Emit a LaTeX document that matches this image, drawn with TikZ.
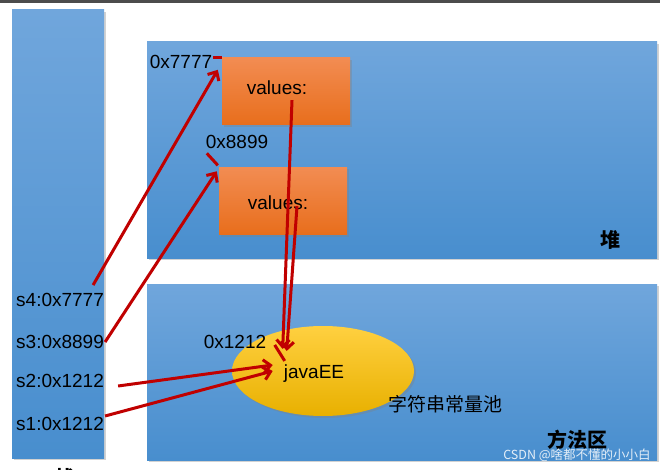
\documentclass[tikz,border=0pt]{standalone}
\usepackage{fontspec}
\setmainfont{Liberation Sans}
\newfontfamily\cjk{Noto Sans CJK SC}
\usetikzlibrary{arrows.meta}
\usetikzlibrary{positioning}
\usetikzlibrary{shadows}
\usetikzlibrary{shapes.geometric}

\definecolor{memred}{HTML}{C00000}
\definecolor{areatop}{HTML}{70A6DC}
\definecolor{areabot}{HTML}{488ECE}
\definecolor{objtop}{HTML}{F28C52}
\definecolor{objbot}{HTML}{E86E1C}
\definecolor{pooltop}{HTML}{FFD040}
\definecolor{poolbot}{HTML}{E8B000}
\tikzset{
	area/.style={draw=none, top color=areatop, bottom color=areabot,
		drop shadow={shadow xshift=2pt, shadow yshift=-2pt, opacity=0.35}},
	obj/.style={draw=none, minimum width=128, minimum height=67, inner sep=0pt,
		top color=objtop, bottom color=objbot,
		drop shadow={shadow xshift=2pt, shadow yshift=-2pt, opacity=0.35}},
	pool/.style={ellipse, draw=none, minimum width=182, minimum height=90, inner sep=0pt,
		top color=pooltop, bottom color=poolbot,
		drop shadow={shadow xshift=2pt, shadow yshift=-2pt, opacity=0.35}},
	txt/.style={inner sep=0pt, font=\fontsize{19}{22}\selectfont},
	ttl/.style={inner sep=0pt, font=\cjk\bfseries\fontsize{20}{22}\selectfont},
	ref/.style={draw=memred, line width=3pt, -{Straight Barb[length=7pt, width=13pt]}},
	tick/.style={draw=memred, line width=3pt}
}

\begin{document}
\begin{tikzpicture}[x=1pt, y=-1pt]
		\useasboundingbox (0,0) rectangle (660,470);
		\fill[white] (0,0) rectangle (660,470);
		\fill[black!70] (0,0) rectangle (660,3);
		
		% stack, heap and method area
		\fill[area] (12,10) rectangle (104,458);
		\fill[area] (147,42) rectangle (657,258);
		\fill[area] (147,284) rectangle (657,460);
		\node[ttl] (stk) at (65,478) {栈};
		\node[ttl] (heap) at (610,240) {堆};
		\node[ttl] (meth) at (577,440) {方法区};
		
		% objects in the heap
		\node[obj] (v1) at (286,91.5) {};
		\node[txt] (v1t) at (277,88) {values:};
		\node[obj] (v2) at (283,201) {};
		\node[txt] (v2t) at (278,203) {values:};
		\node[txt] (a7777) at (181,62) {0x7777};
		\node[txt] (a8899) at (237,142) {0x8899};
		
		% string constant pool
		\node[pool] (pl) at (323,371) {};
		\node[txt] (jee) at (314,374) {javaEE};
		\node[txt] (a1212) at (235,342) {0x1212};
		\node[txt, font=\cjk\fontsize{19}{22}\selectfont] (pname) at (445,404) {字符串常量池};
		
		% stack variables
		\node[txt, anchor=west] (s4) at (16,300) {s4:0x7777};
		\node[txt, anchor=west] (s3) at (16,342) {s3:0x8899};
		\node[txt, anchor=west] (s2) at (16,381) {s2:0x1212};
		\node[txt, anchor=west] (s1) at (16,424) {s1:0x1212};
		
		% address ticks
		\draw[tick] ([xshift=-9pt]v1.north west) -- (v1.north west);
		\draw[tick] ([shift={(-12,-14)}]v2.north west) -- ([shift={(-1,-2)}]v2.north west);
		\draw[tick] ([shift={(-9,-20)}]jee.north west) -- ([shift={(1,-4)}]jee.north west);
		
		% references
		\draw[ref] ([shift={(-11,-8)}]s4.north east) -- ([shift={(-4,12)}]v1.north west);
		\draw[ref] ([xshift=1pt]s3.east) -- ([shift={(-2,4)}]v2.north west);
		\draw[ref] ([shift={(14,5)}]s2.east) -- ([shift={(-11,-9)}]jee.west);
		\draw[ref] ([shift={(1,-8)}]s1.east) -- ([shift={(-11,-3)}]jee.west);
		\draw[ref] ([shift={(15,5)}]v1t.south) -- ([shift={(-1,-16)}]jee.north west);
		\draw[ref] ([shift={(19,-4)}]v2t.south) -- ([shift={(3,-14)}]jee.north west);
		
		\node[inner sep=0pt, text=white, opacity=0.85, font=\cjk\fontsize{12.5}{14}\selectfont] (wm) at (577,455) {CSDN @啥都不懂的小小白};
	\end{tikzpicture}
\end{document}
